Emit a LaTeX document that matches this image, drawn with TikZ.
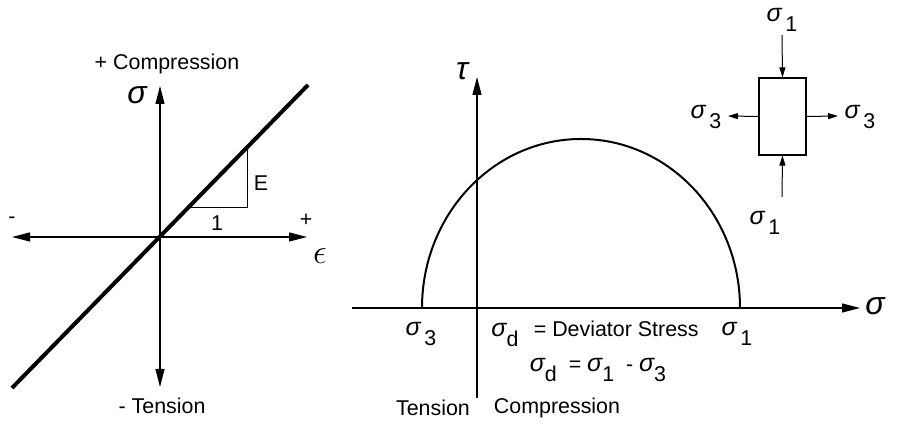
\documentclass[tikz,border=0pt]{standalone}
\usepackage{amsmath,amssymb}
\usepackage{fontspec}
\setmainfont{Liberation Sans}
\usepackage{tikz}
\usetikzlibrary{arrows.meta, positioning, calc}

\newcommand{\gsig}{{\fontsize{12.5}{14}\selectfont\itshape σ}}
\newcommand{\gsub}[1]{\gsig\,\raisebox{-0.9ex}{#1}}

\begin{document}
\begin{tikzpicture}[
    x=0.5pt, y=0.5pt,
    font=\fontsize{10.7}{13}\selectfont,
    axis/.style={-{Triangle[length=9pt, width=4.5pt]}, line width=0.6pt},
    curve/.style={line width=2pt},
    circ/.style={line width=1pt},
    tri/.style={line width=0.5pt},
    elem/.style={rectangle, draw, line width=0.6pt, minimum width=23.5pt, minimum height=38.5pt, inner sep=0pt},
    force/.style={-{Triangle[length=5pt, width=3pt]}, line width=0.5pt},
    lbl/.style={inner sep=1pt, align=center},
    sym/.style={inner sep=1pt, font=\fontsize{16}{18}\selectfont\itshape}
]
\useasboundingbox (0,0) rectangle (904,426);

% Panel A: stress-strain
\coordinate (org) at (160,189);
\coordinate (eL) at (12,189);
\coordinate (eR) at (307,189);
\coordinate (sT) at (160,340);
\coordinate (sB) at (160,39);
\coordinate (lnLo) at (12,38);
\coordinate (lnHi) at (308,341);

\draw[axis] (org) -- (eR);
\draw[axis] (org) -- (eL);
\draw[axis] (org) -- (sT);
\draw[axis] (org) -- (sB);
\draw[curve] (lnLo) -- (lnHi);

\coordinate (tA) at (190,218);
\coordinate (tB) at (247,218);
\coordinate (tC) at (247,276);
\draw[tri] (tA) -- (tB) -- (tC);

\node[lbl] (modE) at (261,243) {E};
\node[lbl] (one) at (217,203) {1};
\node[lbl] (plus) at (306,206) {+};
\node[lbl] (minus) at (12,206) {-};
\node[sym] (eps) at (320,170) {$\epsilon$};
\node[sym] (sigA) at (137,331) {σ};
\node[lbl] (comp) at (167,362) {+ Compression};
\node[lbl] (tens) at (162,20) {- Tension};

% Panel B: Mohr circle
\coordinate (tauO) at (477,28);
\coordinate (tauT) at (477,349);
\coordinate (sgL) at (352,118);
\coordinate (sgR) at (860,118);
\coordinate (s3) at (422,118);

\draw[line width=0.6pt] (tauO) -- (477,118);
\draw[axis] (tauO) -- (tauT);
\draw[axis] (sgL) -- (sgR);
\draw[circ] (s3) arc[start angle=180, end angle=0, x radius=159, y radius=169];

\node[sym] (tau) at (462,355) {τ};
\node[sym] (sigB) at (875,120) {σ};
\node[lbl] (lbS3) at (421,92) {\gsub{3}};
\node[lbl] (lbS1) at (737,92) {\gsub{1}};
\node[lbl] (dev) at (595,92) {\gsig\raisebox{-0.9ex}{d}\ \, = Deviator Stress};
\node[lbl] (deq) at (598,56) {\gsig\raisebox{-0.9ex}{d} \ = \gsig\raisebox{-0.9ex}{1} \ - \gsig\raisebox{-0.9ex}{3}};
\node[lbl] (tensB) at (433,18) {Tension};
\node[lbl] (compB) at (557,18) {Compression};

% Panel C: loaded element
\node[elem] (blk) at (782.5,309.5) {};
\coordinate (fT) at (782,391);
\coordinate (fB) at (782,229);
\coordinate (fL) at (728,310);
\coordinate (fR) at (838,310);

\draw[force] (fT) -- (blk.north);
\draw[force] (fB) -- (blk.south);
\draw[force] (blk.west) -- (fL);
\draw[force] (blk.east) -- (fR);

\node[lbl] (eT) at (782,406) {\gsub{1}};
\node[lbl] (eB) at (765,203) {\gsub{1}};
\node[lbl] (eL3) at (706,309) {\gsub{3}};
\node[lbl] (eR3) at (860,309) {\gsub{3}};

\end{tikzpicture}
\end{document}
